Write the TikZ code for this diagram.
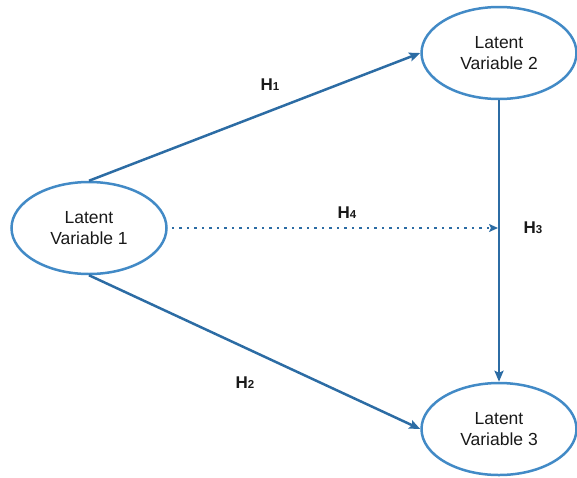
\documentclass[tikz,border=0pt]{standalone}
\usepackage{fontspec}
\setmainfont{Liberation Sans}
\usetikzlibrary{arrows.meta,shapes.geometric}
\definecolor{ellblue}{RGB}{66,138,198}
\definecolor{arrblue}{RGB}{44,108,164}
\newcommand{\hyp}[1]{{\fontsize{17}{19}\selectfont\bfseries H}{\fontsize{11.5}{12}\selectfont\bfseries #1}}
\begin{document}
\begin{tikzpicture}[x=1pt,y=-1pt,
  latent/.style={ellipse, draw=ellblue, line width=2.5pt, minimum width=155pt, minimum height=92pt,
    align=center, font=\fontsize{17.5}{21.5}\selectfont, text=black!90, inner sep=0pt},
  path/.style={draw=arrblue, line width=2.5pt, -{Stealth[length=11pt,width=9pt,inset=2pt]}},
  hlabel/.style={text=black!90, inner sep=0pt}]
  \useasboundingbox (0,0) rectangle (577,477);
  \node[latent] (lv1) at (89,228) {Latent\\Variable 1};
  \node[latent] (lv2) at (499,53) {Latent\\Variable 2};
  \node[latent] (lv3) at (499,429) {Latent\\Variable 3};
  \coordinate (meet) at (lv2.south |- lv1.east);
  \draw[path] (lv1.north) -- (lv2.west);
  \draw[path] (lv1.south) -- (lv3.west);
  \draw[path] (lv2.south) -- (lv3.north);
  \draw[draw=arrblue, line width=2.5pt, dash pattern=on 2.5pt off 5pt,
    -{Stealth[length=9pt,width=8pt,inset=2pt]}] ([xshift=4pt]lv1.east) -- ([xshift=-1pt]meet);
  \node[hlabel] (h1) at (270,85) {\hyp{1}};
  \node[hlabel] (h2) at (245,383) {\hyp{2}};
  \node[hlabel] (h3) at (533,228) {\hyp{3}};
  \node[hlabel] (h4) at (347,213) {\hyp{4}};
\end{tikzpicture}
\end{document}
